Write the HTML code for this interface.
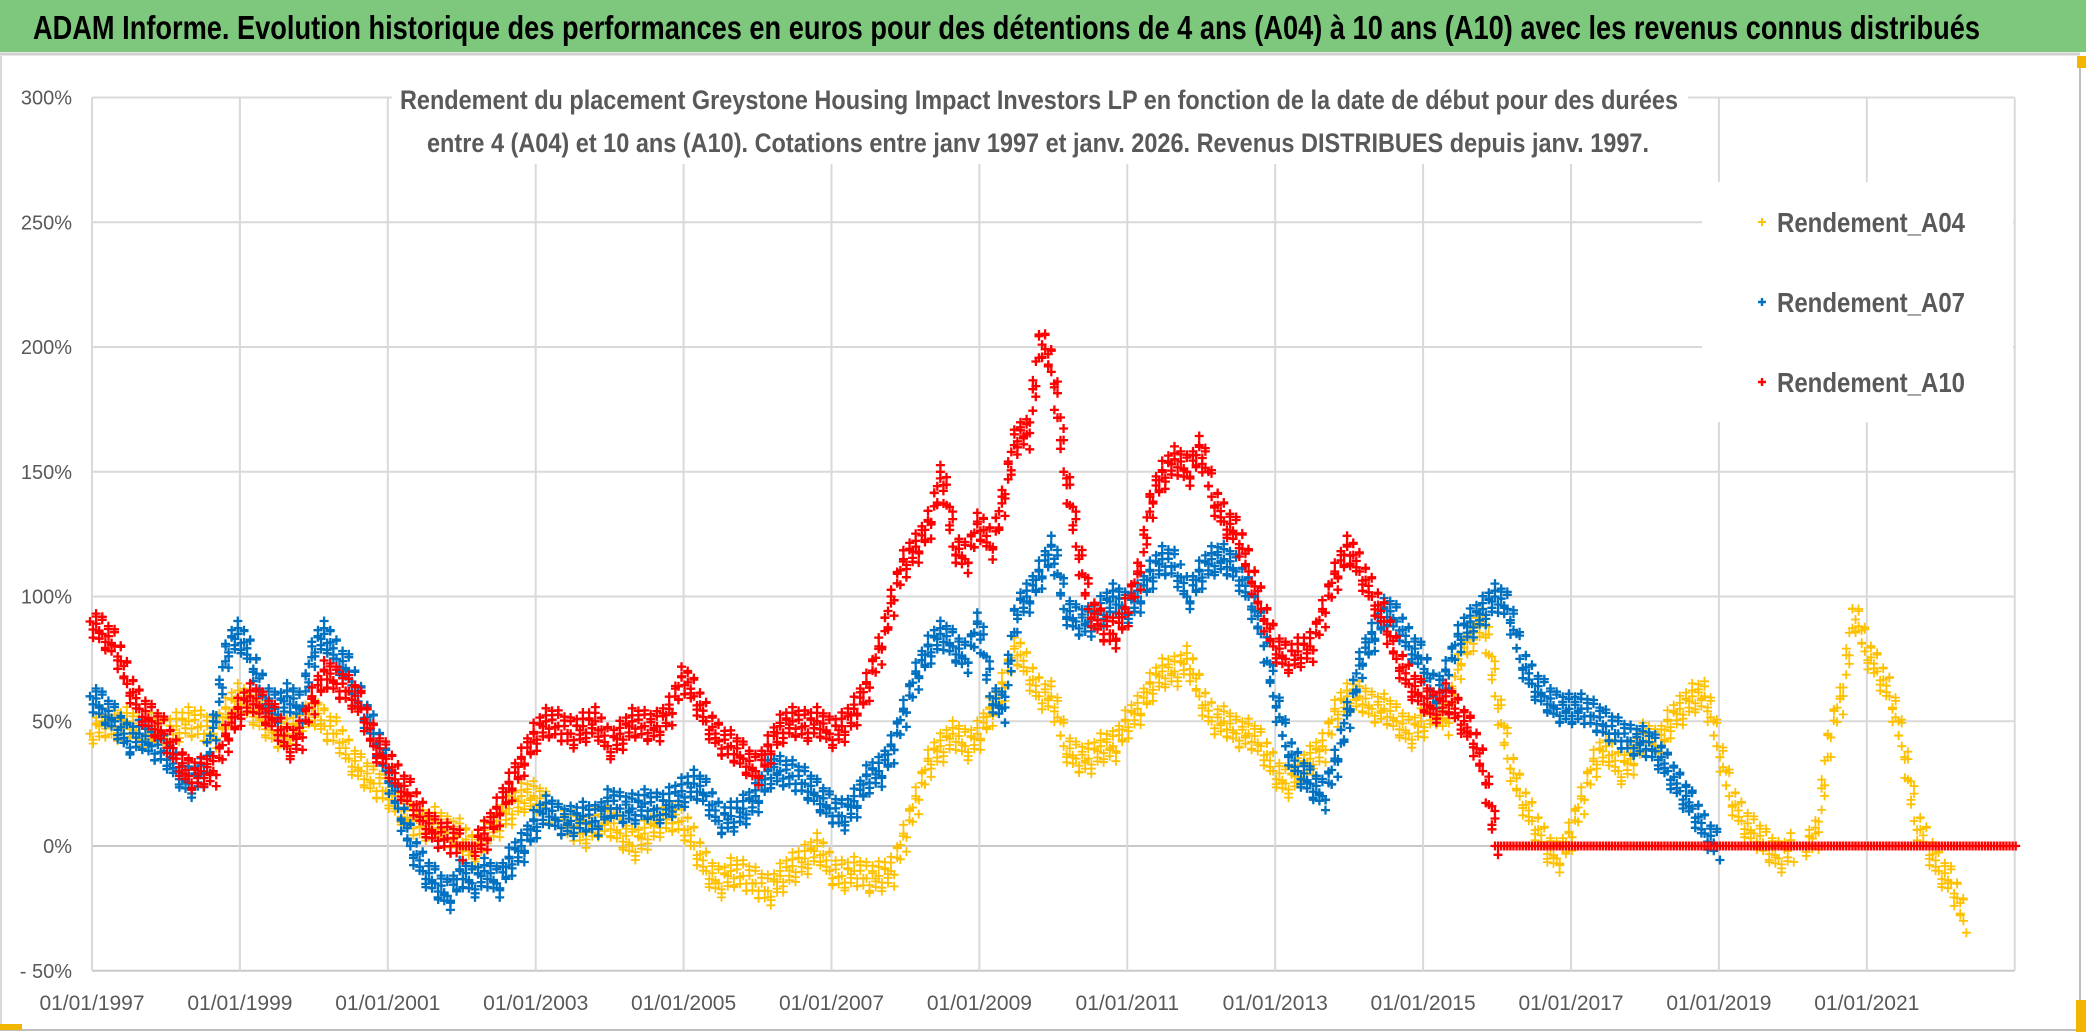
<!DOCTYPE html>
<html><head><meta charset="utf-8"><style>
html,body{margin:0;padding:0;background:#fff;}
svg{display:block;}
text{font-family:"Liberation Sans Narrow","Liberation Sans",sans-serif;}
</style></head><body>
<svg id="chart" width="2086" height="1032" viewBox="0 0 2086 1032">
  <rect x="0" y="0" width="2086" height="1032" fill="#fff"/>
  <rect x="0" y="0" width="2086" height="52" fill="#7dc87d"/>
  <line x1="0" y1="54" x2="2080" y2="54" stroke="#d0d0d0" stroke-width="3"/>
  <text x="33" y="39" font-size="33" font-weight="bold" fill="#000" textLength="1947" lengthAdjust="spacingAndGlyphs">ADAM Informe. Evolution historique des performances en euros pour des détentions de 4 ans (A04) à 10 ans (A10) avec les revenus connus distribués</text>
  <line x1="2080" y1="56" x2="2080" y2="1030" stroke="#bfbfbf" stroke-width="2"/>
  <line x1="1" y1="56" x2="1" y2="1030" stroke="#d9d9d9" stroke-width="2"/>
  <line x1="0" y1="1030" x2="2080" y2="1030" stroke="#bfbfbf" stroke-width="2"/>
  <rect x="2077" y="56" width="9" height="12" fill="#f2b600"/>
  <rect x="2076" y="1000" width="10" height="32" fill="#f2b600"/>
  <rect x="0" y="1024" width="22" height="6" fill="#f2b600"/>
  <g id="grid"></g>
  <g id="yaxis"></g>
  <g id="xaxis"></g>
  <g id="series"></g>
  <rect x="392" y="88" width="1296" height="76" fill="#fff"/>
  <text x="400" y="109" font-size="27" font-weight="bold" fill="#595959" textLength="1278" lengthAdjust="spacingAndGlyphs">Rendement du placement Greystone Housing Impact Investors LP en fonction de la date de début pour des durées</text>
  <text x="427" y="152" font-size="27" font-weight="bold" fill="#595959" textLength="1222" lengthAdjust="spacingAndGlyphs">entre 4 (A04) et 10 ans (A10). Cotations entre janv 1997 et janv. 2026. Revenus DISTRIBUES depuis janv. 1997.</text>
  <g>
    <rect x="1702" y="182" width="311" height="240" fill="#fff"/>
    <g>
      <path d="M1758 222h8M1762 218v8" stroke="#FFC000" stroke-width="2"/>
      <text x="1777" y="232" font-size="28" font-weight="bold" fill="#595959" textLength="188" lengthAdjust="spacingAndGlyphs">Rendement_A04</text>
    </g>
    <g>
      <path d="M1758 302h8M1762 298v8" stroke="#0070C0" stroke-width="2.4"/>
      <text x="1777" y="312" font-size="28" font-weight="bold" fill="#595959" textLength="188" lengthAdjust="spacingAndGlyphs">Rendement_A07</text>
    </g>
    <g>
      <path d="M1758 382h8M1762 378v8" stroke="#FF0000" stroke-width="2.4"/>
      <text x="1777" y="392" font-size="28" font-weight="bold" fill="#595959" textLength="188" lengthAdjust="spacingAndGlyphs">Rendement_A10</text>
    </g>
  </g>
</svg>
<script>
// ---- data (values in %, sampled every 2 months starting at 01/1997) ----
const startYear = 1997;
const stepYears = 1/6;
const yTicks = [300, 250, 200, 150, 100, 50, 0, -50];
const yTickLabels = ["300%","250%","200%","150%","100%","50%","0%","- 50%"];
const xTickYears = [1997,1999,2001,2003,2005,2007,2009,2011,2013,2015,2017,2019,2021];
const xTickLabels = ["01/01/1997","01/01/1999","01/01/2001","01/01/2003","01/01/2005","01/01/2007","01/01/2009","01/01/2011","01/01/2013","01/01/2015","01/01/2017","01/01/2019","01/01/2021"];
const seriesA04 = [45,50,48,50,45,48, 45,48,50,48,45,55, 60,55,50,45,45,50, 55,48,45,35,30,25,
  22,15,10,8,10,5, 5,-3,5,10,15,20, 20,15,10,8,5,10, 10,5,0,5,10,12, 10,0,-10,-15,-10,-12,
  -15,-18,-12,-8,-5,0, -10,-12,-10,-13,-12,-10, 5,20,35,40,45,40, 45,55,65,80,70,60,
  60,40,35,35,40,40, 50,55,65,70,70,75, 60,50,50,45,45,40, 30,25,30,35,40,55,
  60,60,55,55,50,45, 50,55,50,75,85,90, 60,35,20,10,0,-5, 5,20,35,40,30,35,
  45,40,50,55,60,60, 40,20,10,5,0,-5, 0,0,5,45,60,95, 78,70,60,40,10,0, -10,-15,-30];
const seriesA07 = [60,55,50,42,45,40, 38,30,25,30,50,80, 85,75,60,55,60,55, 80,85,75,70,55,45,
  30,15,0,-10,-15,-20, -10,-15,-10,-15,-5,0, 10,15,10,10,12,10, 18,15,15,17,15,18,
  22,25,20,10,12,15, 20,30,30,28,25,20, 15,12,18,28,30,40, 55,70,80,85,80,75,
  90,60,55,95,100,110, 120,95,90,90,95,100, 95,100,110,115,112,100, 110,115,115,110,100,85,
  60,40,30,25,20,35, 55,75,85,95,90,80, 75,60,70,85,90,95, 100,95,75,65,60,55,
  55,55,52,48,45,42, 42,38,30,22,15,5, 0];
const seriesA10 = [90,85,80,65,55,50, 45,35,28,30,30,45, 55,60,55,50,40,45, 60,70,65,62,55,40,
  35,25,20,10,5,3, 0,0,5,15,25,35, 45,50,48,45,48,50, 40,45,50,48,48,55,
  68,60,50,42,40,35, 30,40,48,50,48,50, 45,48,55,65,80,100, 115,120,130,150,120,115,
  130,120,140,165,165,205, 190,150,120,95,88,85, 95,110,140,150,155,150, 160,140,130,125,110,95,
  80,75,78,80,95,110, 120,110,100,90,75,65, 60,55,60,52,45,30,
  0,0,0,0,0,0, 0,0,0,0,0,0, 0,0,0,0,0,0, 0,0,0,0,0,0, 0,0,0,0,0,0, 0,0,0,0,0,0, 0,0,0,0,0,0, 0];

// ---- axes ----
const X0 = 92, PX_PER_YEAR = 73.95, Y0 = 846, PX_PER_PCT = 2.495;
function xScale(year){ return X0 + (year - startYear) * PX_PER_YEAR; }
function yScale(v){ return Y0 - v * PX_PER_PCT; }
const NS = "http://www.w3.org/2000/svg";
const plotRight = xScale(2023);

const grid = document.getElementById('grid');
const yaxis = document.getElementById('yaxis');
const xaxis = document.getElementById('xaxis');
yTicks.forEach((v,i)=>{
  const y = yScale(v);
  const l = document.createElementNS(NS,'line');
  l.setAttribute('x1', X0); l.setAttribute('x2', plotRight);
  l.setAttribute('y1', y); l.setAttribute('y2', y);
  l.setAttribute('stroke', (v===0||v===-50) ? '#c8c8c8' : '#d9d9d9');
  l.setAttribute('stroke-width', 2);
  
  
  grid.appendChild(l);
  const t = document.createElementNS(NS,'text');
  t.setAttribute('x', 72); t.setAttribute('y', y + 7);
  t.setAttribute('text-anchor','end'); t.setAttribute('font-size','20');
  t.setAttribute('fill','#595959');
  t.textContent = yTickLabels[i];
  
  
  yaxis.appendChild(t);
});
xTickYears.forEach((yr,i)=>{
  const x = xScale(yr);
  const l = document.createElementNS(NS,'line');
  l.setAttribute('x1', x); l.setAttribute('x2', x);
  l.setAttribute('y1', yScale(300)); l.setAttribute('y2', yScale(-50));
  l.setAttribute('stroke', '#d9d9d9'); l.setAttribute('stroke-width', 2);
  
  
  grid.appendChild(l);
  const t = document.createElementNS(NS,'text');
  t.setAttribute('x', x); t.setAttribute('y', 1010);
  t.setAttribute('text-anchor','middle'); t.setAttribute('font-size','21');
  t.setAttribute('fill','#595959');
  t.textContent = xTickLabels[i];
  
  
  xaxis.appendChild(t);
});
{
  const l = document.createElementNS(NS,'line');
  l.setAttribute('x1', plotRight); l.setAttribute('x2', plotRight);
  l.setAttribute('y1', yScale(300)); l.setAttribute('y2', yScale(-50));
  l.setAttribute('stroke', '#d9d9d9'); l.setAttribute('stroke-width', 2);
  
  
  grid.appendChild(l);
}

// ---- series: plus markers along the sampled values ----
const offsets = [0, 7, -7, 13, -12, 4, -4, 10, -10, 2, -15, 15];
function drawSeries(values, color, sw, name){
  let d = '';
  const per = 12;
  for (let i = 0; i < values.length; i++){
    const yr = startYear + i * stepYears;
    const v = values[i];
    const vNext = i + 1 < values.length ? values[i+1] : v;
    const n = i + 1 < values.length ? per : 1;
    const flat = (v === 0 && vNext === 0);
    for (let k = 0; k < n; k++){
      const f = k / per;
      const x = xScale(yr + f * stepYears) + ((k % 3) - 1) * 2;
      const y = yScale(v + (vNext - v) * f) + (flat ? 0 : offsets[(i*per+k) % offsets.length]);
      d += 'M' + (x-4.5).toFixed(1) + ' ' + y.toFixed(1) + 'h9M' + x.toFixed(1) + ' ' + (y-4.5).toFixed(1) + 'v9';
    }
  }
  const p = document.createElementNS(NS,'path');
  p.setAttribute('d', d);
  p.setAttribute('stroke', color);
  p.setAttribute('stroke-width', sw);
  p.setAttribute('fill', 'none');
  
  
  document.getElementById('series').appendChild(p);
}
drawSeries(seriesA04, '#FFC000', 1.8, 'series-rendement-a04');
drawSeries(seriesA07, '#0070C0', 2.3, 'series-rendement-a07');
drawSeries(seriesA10, '#FF0000', 2.3, 'series-rendement-a10');
</script>
</body></html>
